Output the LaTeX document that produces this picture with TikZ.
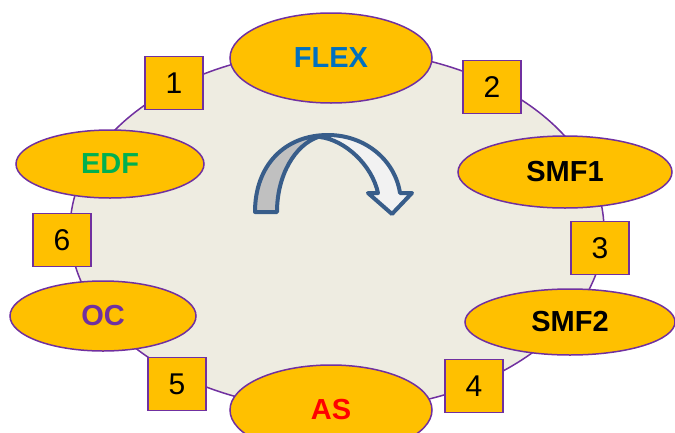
\documentclass[tikz,border=0pt]{standalone}
\usepackage{fontspec}
\setmainfont{Liberation Sans}
\usetikzlibrary{shapes.geometric}

\definecolor{ringfill}{HTML}{EEECE1}
\definecolor{ringline}{HTML}{7030A0}
\definecolor{stagefill}{HTML}{FFC000}
\definecolor{flexblue}{HTML}{0070C0}
\definecolor{edfgreen}{HTML}{00B050}
\definecolor{arrowline}{HTML}{385D8A}
\definecolor{arrowgrey}{HTML}{C0C0C0}
\definecolor{arrowlight}{HTML}{F2F2F2}

\tikzset{
  stage/.style={ellipse, draw=ringline, line width=1.5pt, fill=stagefill, inner sep=0pt,
    font=\fontsize{29}{34}\selectfont\bfseries},
  stepno/.style={rectangle, draw=ringline, line width=1.5pt, fill=stagefill,
    minimum width=58pt, minimum height=53pt, inner sep=0pt,
    font=\fontsize{30}{36}\selectfont},
  turn/.style={draw=arrowline, line width=4pt, line join=round},
}

\begin{document}
\begin{tikzpicture}[x=1pt,y=-1pt]
			\useasboundingbox (0,0) rectangle (675,432);
			% ring
			\draw[ringline, fill=ringfill, line width=1.5pt] (337,230) ellipse [x radius=267, y radius=180];
			%
			\node[stage, minimum width=202pt, minimum height=90pt, text=flexblue] (flex) at (331,58) {FLEX};
			\node[stage, minimum width=214pt, minimum height=72pt] (smf1) at (565,172) {SMF1};
			\node[stage, minimum width=210pt, minimum height=66pt] (smf2) at (570,322) {SMF2};
			\node[stage, minimum width=202pt, minimum height=90pt, text=red] (as) at (331,410) {AS};
			\node[stage, minimum width=186pt, minimum height=70pt, text=ringline] (oc) at (103,316) {OC};
			\node[stage, minimum width=188pt, minimum height=68pt, text=edfgreen] (edf) at (110,164) {EDF};
			%
			\node[stepno] (s1) at (174,83) {1};
			\node[stepno] (s2) at (492,87) {2};
			\node[stepno] (s3) at (600,248) {3};
			\node[stepno] (s4) at (474,386) {4};
			\node[stepno] (s5) at (177,384) {5};
			\node[stepno] (s6) at (62,240) {6};
			% curved arrow
			\filldraw[turn, fill=arrowlight] (320,137) .. controls (345,140) and (372,165) .. (378,193)
				-- (368,193) -- (392,214) -- (412,193) -- (400,193)
				.. controls (395,160) and (365,135) .. (328,135) -- cycle;
			\filldraw[turn, fill=arrowgrey] (255,212) .. controls (255,165) and (285,135) .. (328,135)
				-- (318,137) .. controls (295,145) and (277,175) .. (277,212) -- cycle;
\end{tikzpicture}
\end{document}
